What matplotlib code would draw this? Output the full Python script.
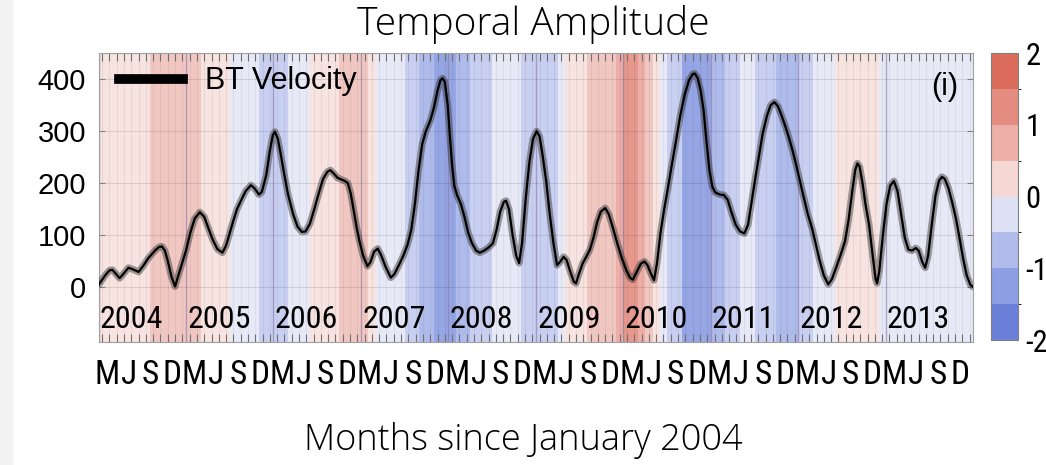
import numpy as np
import matplotlib
matplotlib.use('Agg')
import matplotlib.pyplot as plt
from matplotlib import font_manager
from matplotlib.colors import ListedColormap, BoundaryNorm
from matplotlib.lines import Line2D
from matplotlib.patches import Rectangle
import matplotlib.cm as cm

# monthly index value (background stripes), Jan 2004 .. Dec 2013
stripe_vals = [
    0.25, 0.25, 0.25, 0.25, 0.25, 0.25, 0.25, 0.75, 0.75, 0.75, 0.75, 0.75,          # 2004
    0.75, 0.75, 0.25, 0.25, 0.25, 0.25, -0.25, -0.25, -0.25, -0.25, -0.75, -0.75,    # 2005
    -0.75, -0.75, -0.25, -0.25, -0.25, 0.25, 0.25, 0.25, 0.25, 0.75, 0.75, 0.75,     # 2006
    0.75, 0.25, -0.25, -0.25, -0.25, -0.25, -0.75, -0.75, -1.25, -1.25, -1.75, -1.75,  # 2007
    -1.75, -1.25, -1.25, -0.75, -0.75, -0.75, -0.25, -0.25, -0.25, -0.25, -0.75, -0.75,  # 2008
    -0.75, -0.75, -0.75, -0.25, 0.25, 0.25, 0.25, 0.75, 0.75, 0.75, 0.75, 1.25,      # 2009
    1.75, 1.75, 1.25, 0.75, 0.25, -0.25, -0.75, -0.75, -1.75, -1.75, -1.75, -1.75,   # 2010
    -1.25, -1.25, -0.75, -0.75, -0.25, -0.25, -0.75, -0.75, -0.75, -1.25, -1.25, -1.25,  # 2011
    -0.75, -0.75, -0.25, -0.25, -0.25, 0.25, 0.25, 0.25, 0.25, 0.25, 0.25, -0.25,    # 2012
    -0.25, -0.25, -0.25, -0.25, -0.25, -0.25, -0.25, -0.25, -0.25, -0.25, -0.25, -0.25,  # 2013
]

# BT velocity amplitude (months since Jan 2004, value)
amp_month = [0, 0.5, 1, 1.5, 1.9, 2.4, 2.9, 3.4, 4.1, 4.7, 5.5, 6.1, 6.8, 7.3, 7.8, 8.3, 8.7,
             9.1, 9.5, 10, 10.5, 10.9, 11.3, 12, 12.6, 13.2, 13.9, 14.5, 15.1, 15.7, 16.3,
             17, 17.5, 18, 18.5, 19, 19.6, 20.2, 20.9, 21.4, 22, 22.4, 23, 23.5, 23.9, 24.2,
             24.6, 25, 25.5, 26, 26.7, 27.3, 27.9, 28.4, 29, 29.6, 30.2, 30.8, 31.4, 31.8,
             32.3, 32.8, 33.3, 33.8, 34.2, 34.6, 35, 35.4, 35.8, 36.3, 36.9, 37.3, 37.8,
             38.3, 38.8, 39.4, 40.1, 40.6, 41.2, 41.8, 42.4, 42.9, 43.4, 43.9, 44.4, 44.9,
             45.5, 46, 46.5, 46.9, 47.2, 47.5, 47.9, 48.2, 48.5, 48.8, 49.2, 49.7, 50.2,
             50.7, 51.2, 51.8, 52.3, 52.9, 53.5, 54.1, 54.6, 55.1, 55.6, 55.9, 56.3, 56.8,
             57.3, 57.7, 58.1, 58.6, 59.1, 59.6, 60.1, 60.5, 60.9, 61.4, 61.9, 62.4, 62.9,
             63.3, 63.8, 64.2, 64.7, 65.2, 65.5, 65.9, 66.4, 66.9, 67.4, 67.9, 68.4, 68.9,
             69.5, 70, 70.6, 71.2, 71.8, 72.4, 72.9, 73.3, 73.8, 74.4, 74.9, 75.3, 75.8,
             76.2, 76.6, 77.1, 77.6, 78.1, 78.7, 79.2, 79.8, 80.4, 81, 81.5, 81.8, 82.2,
             82.6, 83, 83.4, 83.8, 84.2, 84.6, 85.2, 85.8, 86.3, 86.8, 87.4, 88, 88.6,
             89.1, 89.6, 90.1, 90.6, 91.1, 91.7, 92.2, 92.7, 93.2, 93.7, 94.2, 94.7, 95.2,
             95.7, 96.2, 96.7, 97.3, 97.9, 98.4, 98.9, 99.5, 100.1, 100.6, 101.2, 101.8,
             102.4, 102.9, 103.4, 103.8, 104.1, 104.4, 104.8, 105.2, 105.7, 106.2, 106.6,
             106.8, 107.1, 107.6, 108.1, 108.6, 109.1, 109.6, 110.1, 110.6, 111.1, 111.6,
             112.1, 112.5, 113, 113.4, 113.8, 114.3, 114.8, 115.3, 115.7, 116.1, 116.6,
             117.1, 117.6, 118.1, 118.6, 119.1, 119.6, 120]
amp_value = [4, 14, 24, 32, 33, 25, 17, 25, 37, 34, 29, 40, 55, 63, 71, 77, 78,
             70, 50, 20, 1, 20, 38, 70, 105, 132, 144, 135, 112, 90, 73,
             66, 80, 104, 128, 150, 168, 185, 196, 190, 178, 183, 215, 262, 292, 299,
             285, 255, 215, 178, 140, 116, 106, 107, 122, 150, 180, 208, 222, 225,
             218, 210, 207, 204, 200, 180, 148, 115, 88, 60, 40, 48, 68,
             74, 60, 38, 18, 25, 42, 60, 82, 110, 160, 225, 275, 300,
             320, 345, 378, 398, 402, 395, 350, 290, 235, 195, 176, 160, 135,
             105, 85, 70, 66, 70, 76, 84, 110, 145, 164, 166, 150, 100,
             60, 46, 85, 170, 240, 285, 300, 290, 255, 205, 140, 85, 42,
             48, 58, 52, 30, 10, 7, 25, 45, 58, 72, 95, 125, 145,
             152, 140, 112, 82, 55, 32, 18, 14, 28, 45, 49, 42, 25,
             13, 45, 105, 150, 190, 240, 280, 330, 370, 398, 410, 411, 402,
             378, 340, 280, 225, 193, 182, 178, 177, 168, 145, 120, 107, 103,
             120, 165, 210, 252, 295, 330, 350, 356, 348, 330, 310, 288, 263,
             235, 205, 175, 140, 112, 82, 52, 22, 5, 15, 38, 62,
             88, 130, 185, 225, 238, 232, 200, 160, 120, 60, 15,
             7, 30, 100, 160, 195, 204, 185, 140, 95, 72, 70,
             75, 70, 48, 37, 60, 120, 175, 205, 212, 208, 190,
             163, 133, 95, 55, 22, 4, 0]

years = [2004, 2005, 2006, 2007, 2008, 2009, 2010, 2011, 2012, 2013]
month_letters = ['M', 'J', 'S', 'D']
yticks = [0, 100, 200, 300, 400]
cbar_ticks = [-2, -1, 0, 1, 2]

colors = ['#6a7fd8', '#8e9ee2', '#b1bbec', '#dde1f4',
          '#f5d8d3', '#ecb0a8', '#e48c80', '#dc6c5c']
cmap = ListedColormap(colors)
norm = BoundaryNorm(np.arange(-2, 2.01, 0.5), cmap.N)

# narrow font for the squeezed labels, if one is installed
narrow = None
ttf = font_manager.fontManager.ttflist
for nm in ['Liberation Sans Narrow', 'Arial Narrow', 'Roboto Condensed', 'Open Sans Condensed',
           'Noto Sans Condensed', 'DejaVu Sans Condensed']:
    if any(f.name == nm for f in ttf):
        narrow = dict(family=nm)
        break
if narrow is None:
    for nm in ['Roboto', 'Noto Sans', 'Open Sans', 'DejaVu Sans']:
        if any(f.name == nm and f.stretch == 'condensed' for f in ttf):
            narrow = dict(family=nm, stretch='condensed')
            break
if narrow is None:
    narrow = dict(family='Liberation Sans')
    month_size, year_size, cb_size = 18, 20, 19
else:
    month_size, year_size, cb_size = 24, 23, 22

fig = plt.figure(figsize=(10.46, 4.65), dpi=100)
fig.patches.append(Rectangle((0, 0), 12/1046, 1, transform=fig.transFigure,
                             color='#f2f2f2', zorder=-10))
ax = fig.add_axes([0.0942, 0.2645, 0.8363, 0.6209])
cax = fig.add_axes([0.9471, 0.2688, 0.0264, 0.6166])

ylo, yhi = -106, 450
n = len(stripe_vals)
ax.pcolormesh(np.arange(n + 1), [ylo, yhi], np.array(stripe_vals)[np.newaxis, :],
              cmap=cmap, norm=norm, alpha=0.7, shading='flat', zorder=0)

# year lines
for i in range(len(years)):
    ax.axvline(12 * i, color='#8878a8', alpha=0.6, lw=1, zorder=1)

ax.plot(amp_month, amp_value, color='#303030', lw=5, alpha=0.45,
        solid_joinstyle='round', solid_capstyle='round', zorder=3)
ax.plot(amp_month, amp_value, color='black', lw=1.6, solid_joinstyle='round', zorder=4)

ax.set_xlim(0, n)
ax.set_ylim(ylo, yhi)

ax.set_yticks(yticks)
ax.set_yticklabels([str(v) for v in yticks], fontsize=21, family='Liberation Sans')
ax.tick_params(axis='y', direction='in', length=4, color='#808080', right=True, pad=9)
ax.grid(axis='y', color='k', alpha=0.1, lw=0.8)

pos = [1.15 + 3 * k for k in range(len(years) * 4)]
ax.set_xticks(pos)
ax.set_xticklabels(month_letters * len(years), fontsize=month_size, **narrow)
ax.tick_params(axis='x', which='major', length=0, pad=12)
ax.set_xticks(np.arange(n) + 0.5, minor=True)
ax.tick_params(axis='x', which='minor', direction='in', length=6, width=0.8,
               color='#707070', top=True, bottom=True)
ax.grid(axis='x', which='minor', color='k', alpha=0.05, lw=0.8)

for i, yr in enumerate(years):
    ax.text(12 * i + 0.15, -79, str(yr), fontsize=year_size, va='baseline', ha='left',
            zorder=5, **narrow)

for s in ax.spines.values():
    s.set_color('#a0a0a0')

ax.legend([Line2D([0], [0], color='black', lw=7)], ['BT Velocity'], loc='upper left',
          bbox_to_anchor=(0.0235, 0.955), borderaxespad=0, borderpad=0,
          frameon=False, handlelength=2.1, handletextpad=0.7,
          prop={'family': 'Liberation Sans', 'size': 22})
ax.text(0.983, 385, '(i)', transform=ax.get_yaxis_transform(), fontsize=22,
        ha='right', va='center', family='Liberation Sans')

cb = fig.colorbar(cm.ScalarMappable(norm=norm, cmap=cmap), cax=cax, ticks=cbar_ticks)
cb.ax.set_yticklabels([str(t) for t in cbar_ticks], fontsize=cb_size, **narrow)
cb.ax.tick_params(length=0, pad=5)
cb.outline.set_edgecolor('#808080')

fig.text(533/1046, 1 - 25/465, 'Temporal Amplitude', ha='center', va='center',
         fontsize=28, family='Open Sans', fontweight='light')
fig.text(523/1046, 1 - 440/465, 'Months since January 2004', ha='center', va='center',
         fontsize=26, family='Open Sans', fontweight='light')

fig.savefig('out.png', dpi=100)
